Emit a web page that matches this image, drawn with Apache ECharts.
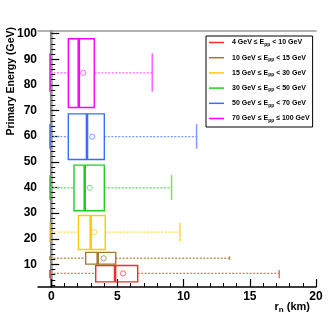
<!DOCTYPE html>
<html><head><meta charset="utf-8">
<script src="https://cdn.jsdelivr.net/npm/echarts@6/dist/echarts.min.js"></script>
<style>html,body{margin:0;padding:0;background:#fff}#c{width:332px;height:320px}</style>
</head><body><div id="c"></div>
<script>
// ---- data ----
const eLow = [4, 10, 15, 30, 50, 70];
const eHigh = [10, 15, 30, 50, 70, 100];
const eOp = ['<', '<', '<', '<', '<', '≤'];
const colors = ['#ff2a2a', '#a47a2c', '#ffcc00', '#22cc22', '#3a6cff', '#ff00ff'];
const lightColors = ['#ff6a6a', '#b89a5a', '#ffd84a', '#77dd77', '#7b9cff', '#ff66ff'];
const q1 = [3.36, 2.60, 2.05, 1.72, 1.29, 1.29];
const q3 = [6.53, 4.87, 4.08, 4.01, 4.01, 3.25];
const median = [4.82, 3.51, 2.98, 2.53, 2.70, 2.08];
const mean = [5.42, 3.96, 3.25, 2.91, 3.10, 2.42];
const whiskLow = [-0.1, -0.1, -0.1, -0.1, -0.1, -0.1];
const whiskHigh = [17.22, 13.47, 9.72, 9.09, 10.98, 7.63];
const boxLow = [3.2, 10.1, 15.8, 30.9, 50.9, 71.2];
const boxHigh = [9.6, 14.7, 29.1, 48.7, 68.7, 98.0];
const centerY = [6.5, 12.4, 22.6, 39.9, 59.8, 84.7];
const capLow = [4.6, 11.7, 18.8, 35.1, 55.1, 77.3];
const capHigh = [7.8, 13.2, 26.2, 44.8, 64.7, 92.3];
const xMajor = [0, 5, 10, 15, 20];
const xMinor = [1,2,3,4,6,7,8,9,11,12,13,14,16,17,18,19];
const yMajor = [10, 20, 30, 40, 50, 60, 70, 80, 90, 100];
const yMinor = [2,4,6,8,12,14,16,18,22,24,26,28,32,34,36,38,42,44,46,48,52,54,56,58,62,64,66,68,72,74,76,78,82,84,86,88,92,94,96,98];

const names = eLow.map((l, i) => `${l} GeV ≤ Epp ${eOp[i]} ${eHigh[i]} GeV`);

function renderItem(params, api) {
  const i = params.seriesIndex;
  const col = colors[i], lc = lightColors[i];
  const v = k => api.value(k);
  const c = (x, y) => api.coord([x, y]);
  const wl = c(v(4), v(8)), bl = c(v(0), v(8)), br = c(v(1), v(8)), wr = c(v(5), v(8));
  const capLwL = c(v(4), v(9)), capHwL = c(v(4), v(10));
  const capLwR = c(v(5), v(9)), capHwR = c(v(5), v(10));
  const tl = c(v(0), v(7)), brc = c(v(1), v(6));
  const mT = c(v(2), v(7)), mB = c(v(2), v(6));
  const mn = c(v(3), v(8));
  const dash = {stroke: lc, lineWidth: 1.3, lineDash: [2, 1.5], fill: null};
  return {
    type: 'group',
    children: [
      {type: 'line', shape: {x1: wl[0], y1: wl[1], x2: bl[0], y2: bl[1]}, style: dash},
      {type: 'line', shape: {x1: br[0], y1: br[1], x2: wr[0], y2: wr[1]}, style: dash},
      {type: 'line', shape: {x1: capLwL[0], y1: capLwL[1], x2: capHwL[0], y2: capHwL[1]}, style: {stroke: col, lineWidth: 1.3}},
      {type: 'line', shape: {x1: capLwR[0], y1: capLwR[1], x2: capHwR[0], y2: capHwR[1]}, style: {stroke: lc, lineWidth: 1.5}},
      {type: 'rect', shape: {x: tl[0], y: tl[1], width: brc[0] - tl[0], height: brc[1] - tl[1]}, style: {stroke: col, lineWidth: 1.4, fill: null}},
      {type: 'line', shape: {x1: mT[0], y1: mT[1], x2: mB[0], y2: mB[1]}, style: {stroke: col, lineWidth: 2.6}},
      {type: 'circle', shape: {cx: mn[0], cy: mn[1], r: 2.6}, style: {stroke: lc, lineWidth: 1, fill: null}}
    ]
  };
}

const series = names.map((n, i) => ({
  name: n,
  type: 'custom',
  renderItem: renderItem,
  itemStyle: {color: colors[i]},
  encode: {x: [0, 1, 4, 5], y: [6, 7]},
  data: [[q1[i], q3[i], median[i], mean[i], whiskLow[i], whiskHigh[i], boxLow[i], boxHigh[i], centerY[i], capLow[i], capHigh[i]]],
  xAxisIndex: 0, yAxisIndex: 0,
  silent: true
}));

const bold = {fontFamily: 'Liberation Sans, Arial, sans-serif', fontWeight: 'bold'};
const option = {
  animation: false,
  backgroundColor: '#fff',
  grid: {left: 38, top: 31, width: 278, height: 256},
  xAxis: [
    {type: 'value', min: -1, max: 20, position: 'bottom',
     axisLine: {show: true, lineStyle: {color: '#000', width: 1.5}},
     axisTick: {show: true, inside: true, length: 8, customValues: xMajor, lineStyle: {color: '#000', width: 1.2}},
     axisLabel: Object.assign({customValues: xMajor, color: '#000', fontSize: 12, margin: 4}, bold),
     splitLine: {show: false}},
    {type: 'value', min: -1, max: 20, position: 'bottom',
     axisLine: {show: false},
     axisTick: {show: true, inside: true, length: 4, customValues: xMinor, lineStyle: {color: '#000', width: 1}},
     axisLabel: {show: false}, splitLine: {show: false}},
    {type: 'value', min: -1, max: 20, position: 'top',
     axisLine: {show: true, lineStyle: {color: '#999', width: 1.5}},
     axisTick: {show: false}, axisLabel: {show: false}, splitLine: {show: false}}
  ],
  yAxis: [
    {type: 'value', min: 1.2, max: 101, position: 'left',
     axisLine: {show: true, lineStyle: {color: '#000', width: 1.5}},
     axisTick: {show: true, inside: true, length: 8, customValues: yMajor, lineStyle: {color: '#000', width: 1.2}},
     axisLabel: Object.assign({customValues: yMajor, color: '#000', fontSize: 12, margin: 1}, bold),
     splitLine: {show: false}},
    {type: 'value', min: 1.2, max: 101, position: 'left',
     axisLine: {show: false},
     axisTick: {show: true, inside: true, length: 4, customValues: yMinor, lineStyle: {color: '#000', width: 1}},
     axisLabel: {show: false}, splitLine: {show: false}},
    {type: 'value', min: 1.2, max: 101, position: 'right',
     axisLine: {show: true, lineStyle: {color: '#999', width: 2.5}},
     axisTick: {show: false}, axisLabel: {show: false}, splitLine: {show: false}}
  ],
  legend: {
    orient: 'vertical', left: 206, top: 36,
    data: names,
    icon: 'rect', itemWidth: 15, itemHeight: 1.5, itemGap: 7.2,
    padding: [3, 3, 4, 3],
    backgroundColor: '#fff', borderColor: '#000', borderWidth: 1, borderRadius: 0,
    selectedMode: false,
    formatter: function (n) {
      const parts = n.split('Epp');
      return '{t|' + parts[0] + 'E}{s|pp}{t|' + parts[1] + '}';
    },
    textStyle: {
      padding: [0, 0, 0, 3],
      rich: {
        t: {fontSize: 7, fontWeight: 'bold', fontFamily: 'Liberation Sans, Arial, sans-serif', color: '#000', lineHeight: 9},
        s: {fontSize: 5, fontWeight: 'bold', fontFamily: 'Liberation Sans, Arial, sans-serif', color: '#000', lineHeight: 9, verticalAlign: 'bottom', padding: [3, 0, 0, 0]}
      }
    }
  },
  graphic: [
    {type: 'text', x: 11, y: 27, rotation: Math.PI / 2,
     style: Object.assign({text: 'Primary Energy (GeV)', fontSize: 10.5, fill: '#000', align: 'right', verticalAlign: 'middle'}, bold)},
    {type: 'text', x: 310, y: 307,
     style: {text: '{a|r}{b|n}{a| (km)}', align: 'right', verticalAlign: 'middle',
       rich: {a: Object.assign({fontSize: 11, fill: '#000', lineHeight: 13}, bold),
              b: Object.assign({fontSize: 8, fill: '#000', lineHeight: 13, verticalAlign: 'bottom', padding: [4, 0, 0, 0]}, bold)}}}
  ],
  series: series
};
const chart = echarts.init(document.getElementById('c'), null, {renderer: 'canvas'});
chart.setOption(option);
</script></body></html>
